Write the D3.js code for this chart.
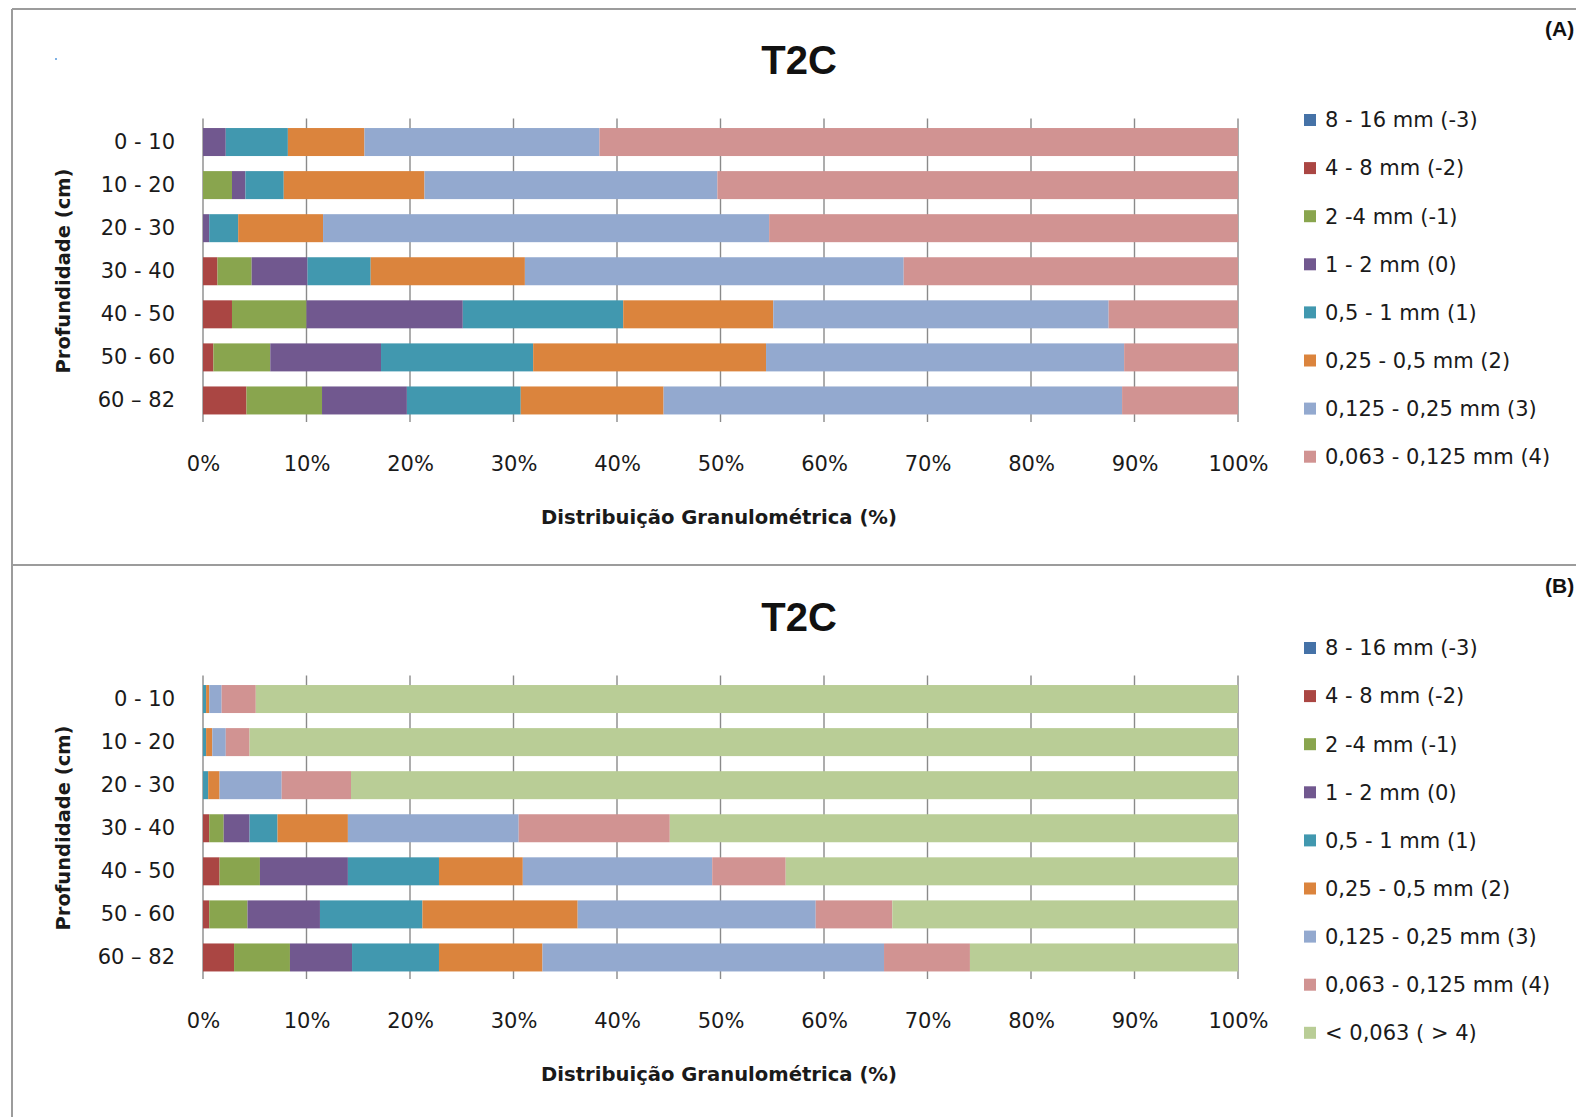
<!DOCTYPE html>
<html>
<head>
<meta charset="utf-8">
<script src="https://cdn.jsdelivr.net/npm/d3@7"></script>
<style>
  body { margin: 0; background: #fff; }
  svg { display: block; font-family: "DejaVu Sans", sans-serif; }
</style>
</head>
<body>
<svg id="chart" width="1576" height="1117"></svg>
<script>
// Depth intervals (cm)
const depths = ["0 - 10", "10 - 20", "20 - 30", "30 - 40", "40 - 50", "50 - 60", "60 \u2013 82"];

// Grain-size classes (phi scale in brackets)
const sizeClasses = [
  "8 - 16 mm  (-3)",
  "4 - 8 mm (-2)",
  "2 -4 mm (-1)",
  "1 - 2 mm (0)",
  "0,5 - 1 mm (1)",
  "0,25 - 0,5 mm (2)",
  "0,125 - 0,25 mm (3)",
  "0,063 - 0,125 mm (4)",
  "< 0,063 ( > 4)"
];
const classColors = ["#4572A7", "#AA4643", "#89A54E", "#71588F", "#4198AF", "#DB843D", "#93A9CF", "#D19392", "#B9CD96"];

const xTickValues = [0, 10, 20, 30, 40, 50, 60, 70, 80, 90, 100];
const xTickLabels = ["0%", "10%", "20%", "30%", "40%", "50%", "60%", "70%", "80%", "90%", "100%"];

// (A) coarse fraction only (> 0,063 mm), % per depth
const a_8_16      = [0, 0, 0, 0, 0, 0, 0];
const a_4_8       = [0, 0, 0, 1.4, 2.8, 1.0, 4.2];
const a_2_4       = [0, 2.8, 0, 3.3, 7.2, 5.5, 7.3];
const a_1_2       = [2.2, 1.3, 0.6, 5.4, 15.1, 10.7, 8.2];
const a_05_1      = [6.0, 3.7, 2.8, 6.1, 15.5, 14.7, 11.0];
const a_025_05    = [7.4, 13.6, 8.2, 14.9, 14.5, 22.5, 13.8];
const a_0125_025  = [22.7, 28.3, 43.1, 36.6, 32.4, 34.6, 44.3];
const a_0063_0125 = [61.7, 50.3, 45.3, 32.3, 12.5, 11.0, 11.2];

// (B) whole sample including fines (< 0,063 mm), % per depth
const b_8_16      = [0, 0, 0, 0, 0, 0, 0];
const b_4_8       = [0, 0, 0, 0.6, 1.6, 0.6, 3.0];
const b_2_4       = [0, 0, 0, 1.4, 3.9, 3.7, 5.4];
const b_1_2       = [0, 0, 0, 2.5, 8.5, 7.0, 6.0];
const b_05_1      = [0.3, 0.3, 0.5, 2.7, 8.8, 9.9, 8.4];
const b_025_05    = [0.3, 0.6, 1.1, 6.8, 8.1, 15.0, 10.0];
const b_0125_025  = [1.2, 1.3, 6.0, 16.5, 18.3, 23.0, 33.0];
const b_0063_0125 = [3.3, 2.3, 6.7, 14.6, 7.1, 7.4, 8.3];
const b_fines     = [94.9, 95.5, 85.7, 54.9, 43.7, 33.4, 25.9];

const panels = [
  { tag: "(A)", title: "T2C", dy: 0, legendTop: 120,
    series: [a_8_16, a_4_8, a_2_4, a_1_2, a_05_1, a_025_05, a_0125_025, a_0063_0125] },
  { tag: "(B)", title: "T2C", dy: 557, legendTop: 648,
    series: [b_8_16, b_4_8, b_2_4, b_1_2, b_05_1, b_025_05, b_0125_025, b_0063_0125, b_fines] }
];

const svg = d3.select("#chart");
const textColor = "#1a1a1a";

// outer frame and panel separator
const frame = svg.append("g").attr("stroke", "#9c9c9c").attr("stroke-width", 2).attr("fill", "none");
frame.append("line").attr("x1", 12).attr("y1", 9).attr("x2", 1576).attr("y2", 9);
frame.append("line").attr("x1", 12).attr("y1", 9).attr("x2", 12).attr("y2", 1117);
frame.append("line").attr("x1", 12).attr("y1", 565).attr("x2", 1576).attr("y2", 565);
svg.append("rect").attr("x", 55).attr("y", 58).attr("width", 2).attr("height", 2).attr("fill", "#7fb2e5");

const x = d3.scaleLinear().domain([0, 100]).range([203, 1238]);

panels.forEach(p => {
  const g = svg.append("g").attr("transform", `translate(0,${p.dy})`);
  const keys = d3.range(p.series.length);
  const rows = depths.map((d, i) => {
    const r = { depth: d };
    keys.forEach(k => { r[k] = p.series[k][i]; });
    return r;
  });
  const stacked = d3.stack().keys(keys)(rows);

  const y = d3.scaleBand().domain(depths).range([120.5, 422])
    .paddingInner(0.35).paddingOuter(0.175);

  // vertical gridlines
  g.append("g").selectAll("line").data(xTickValues).join("line")
    .attr("x1", d => x(d)).attr("x2", d => x(d))
    .attr("y1", 118.5).attr("y2", 422)
    .attr("stroke", "#8a8a8a").attr("stroke-width", 1.4);

  // stacked bars
  g.append("g").selectAll("g").data(stacked).join("g")
    .attr("fill", d => classColors[d.key])
    .selectAll("rect").data(d => d).join("rect")
    .attr("x", d => x(d[0]))
    .attr("width", d => Math.max(0, x(d[1]) - x(d[0])))
    .attr("y", d => y(d.data.depth))
    .attr("height", y.bandwidth());

  // category axis
  const yAxis = g.append("g").attr("transform", `translate(${x(0)},0)`)
    .call(d3.axisLeft(y).tickSize(0).tickPadding(28));
  yAxis.select(".domain").remove();
  yAxis.selectAll("text").attr("font-size", 21).attr("fill", textColor)
    .attr("font-family", "DejaVu Sans, sans-serif");

  // value axis labels
  const xAxis = g.append("g").attr("transform", "translate(0,422)")
    .call(d3.axisBottom(x).tickValues(xTickValues).tickFormat((d, i) => xTickLabels[i]).tickSize(0));
  xAxis.select(".domain").remove();
  xAxis.selectAll("text").attr("y", 42).attr("dy", "0.35em").attr("font-size", 21)
    .attr("fill", textColor).attr("font-family", "DejaVu Sans, sans-serif");

  // titles
  g.append("text").attr("x", 799).attr("y", 60).attr("dy", "0.35em")
    .attr("text-anchor", "middle").attr("font-family", "Liberation Sans, Arial, sans-serif")
    .attr("font-weight", "bold").attr("font-size", 40).attr("fill", "#111").text(p.title);
  g.append("text").attr("x", 719).attr("y", 517).attr("dy", "0.35em")
    .attr("text-anchor", "middle").attr("font-weight", "bold").attr("font-size", 19.6)
    .attr("fill", textColor).text("Distribui\u00e7\u00e3o  Granulom\u00e9trica (%)");
  g.append("text").attr("transform", "translate(63,271) rotate(-90)").attr("dy", "0.35em")
    .attr("text-anchor", "middle").attr("font-weight", "bold").attr("font-size", 19.5)
    .attr("fill", textColor).text("Profundidade (cm)");
  g.append("text").attr("x", 1545).attr("y", 29).attr("dy", "0.35em")
    .attr("font-family", "Liberation Sans, Arial, sans-serif")
    .attr("font-weight", "bold").attr("font-size", 21).attr("fill", "#111").text(p.tag);

  // legend
  const lg = svg.append("g");
  const items = lg.selectAll("g").data(keys).join("g")
    .attr("transform", (k, i) => `translate(1304,${p.legendTop + i * 48.1})`);
  items.append("rect").attr("x", 0).attr("y", -6).attr("width", 12).attr("height", 12)
    .attr("fill", k => classColors[k]);
  items.append("text").attr("x", 21).attr("y", 0).attr("dy", "0.35em")
    .attr("font-size", 21).attr("fill", textColor).text(k => sizeClasses[k]);
});
</script>
</body>
</html>
